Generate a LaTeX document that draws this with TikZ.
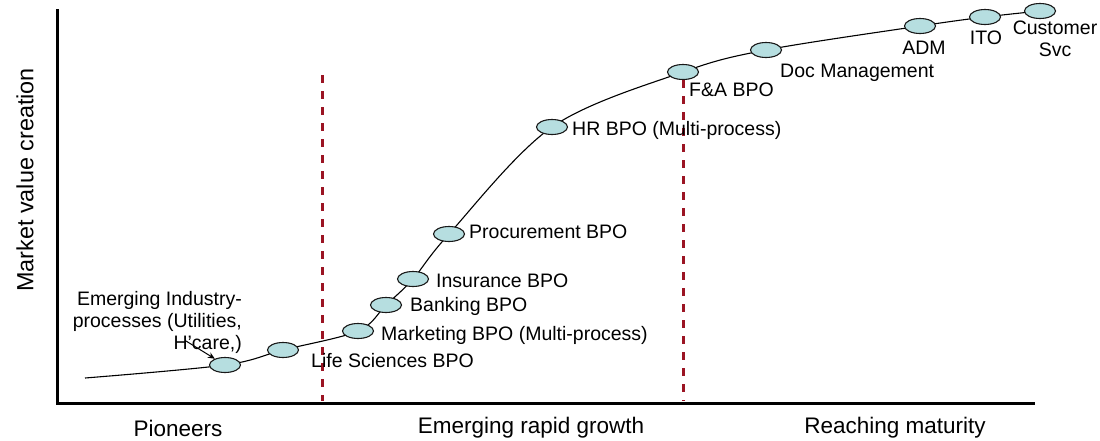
\documentclass[tikz,border=0pt]{standalone}
\usepackage{fontspec}
\setmainfont{Liberation Sans}
\usetikzlibrary{shapes.geometric,arrows.meta}
\definecolor{ellfill}{RGB}{182,222,224}
\definecolor{dashred}{RGB}{155,20,35}
\begin{document}
\begin{tikzpicture}[x=1pt,y=-1pt,
  stage/.style={ellipse,draw=black!90,line width=1.1pt,fill=ellfill,minimum width=31pt,minimum height=15pt,inner sep=0pt},
  lbl/.style={font=\fontsize{19.5}{22}\selectfont,inner sep=0pt},
  phase/.style={font=\fontsize{22.5}{26}\selectfont,inner sep=0pt},
  phaseline/.style={dashred,line width=3pt,dash pattern=on 8pt off 8pt},
  axisline/.style={line width=3pt,black}]
\useasboundingbox (0,0) rectangle (1100,440);
% axes
\coordinate (ytop) at (57,9);
\coordinate (origin) at (57,403);
\coordinate (xend) at (1035,403);
\draw[axisline] (ytop) -- (origin) -- (xend);
% curve points
\coordinate (s0) at (85,378);
\coordinate (p1) at (225,365);
\coordinate (p2) at (283,350);
\coordinate (p3) at (358,331);
\coordinate (p4) at (386,305);
\coordinate (p5) at (413,279);
\coordinate (p6) at (449,234);
\coordinate (p7) at (552,127);
\coordinate (p8) at (683,72);
\coordinate (p9) at (766,50);
\coordinate (p10) at (920,26);
\coordinate (p11) at (985,17);
\coordinate (p12) at (1040,11);
\draw[line width=1.1pt] plot[smooth,tension=0.55] coordinates {(s0) (p1) (p2) (p3) (p4) (p5) (p6) (p7) (p8) (p9) (p10) (p11) (p12)};
% phase dividers
\coordinate (d1top) at (322,75);
\coordinate (d1bot) at (322,401);
\coordinate (d2bot) at (683,401);
\foreach \i in {1,...,12} {\node[stage] (e\i) at (p\i) {};}
\draw[phaseline] (d1top) -- (d1bot);
\draw[phaseline] (e8.south) -- (d2bot);
% labels
\node[lbl,anchor=east,align=right] (emerg) at (242,322) {Emerging Industry-\\processes (Utilities,\\H’care,)};
\coordinate (arrstart) at (186,341);
\draw[-{Stealth[length=7pt,width=6pt]},line width=1pt] (arrstart) -- (e1);
\node[lbl,anchor=west] (l2) at (311,361) {Life Sciences BPO};
\node[lbl,anchor=west] (l3) at (381,335) {Marketing BPO (Multi-process)};
\node[lbl,anchor=west] (l4) at (410,306) {Banking BPO};
\node[lbl,anchor=west] (l5) at (436,281) {Insurance BPO};
\node[lbl,anchor=west] (l6) at (469,232) {Procurement BPO};
\node[lbl,anchor=west] (l7) at (572,130) {HR BPO (Multi-process)};
\node[lbl,anchor=west] (l8) at (689,90) {F\&A BPO};
\node[lbl,anchor=west] (l9) at (780,73) {Doc Management};
\node[lbl] (l10) at (924,48) {ADM};
\node[lbl] (l11) at (986,38) {ITO};
\node[lbl,align=center] (l12) at (1055,39) {Customer\\Svc};
% axis texts
\node[font=\fontsize{23.4}{26}\selectfont,rotate=90,inner sep=0pt] (ylab) at (25,180) {Market value creation};
\node[phase] (ph1) at (178,428) {Pioneers};
\node[phase] (ph2) at (531,428) {Emerging rapid growth};
\node[phase] (ph3) at (895,428) {Reaching maturity};
\end{tikzpicture}
\end{document}
